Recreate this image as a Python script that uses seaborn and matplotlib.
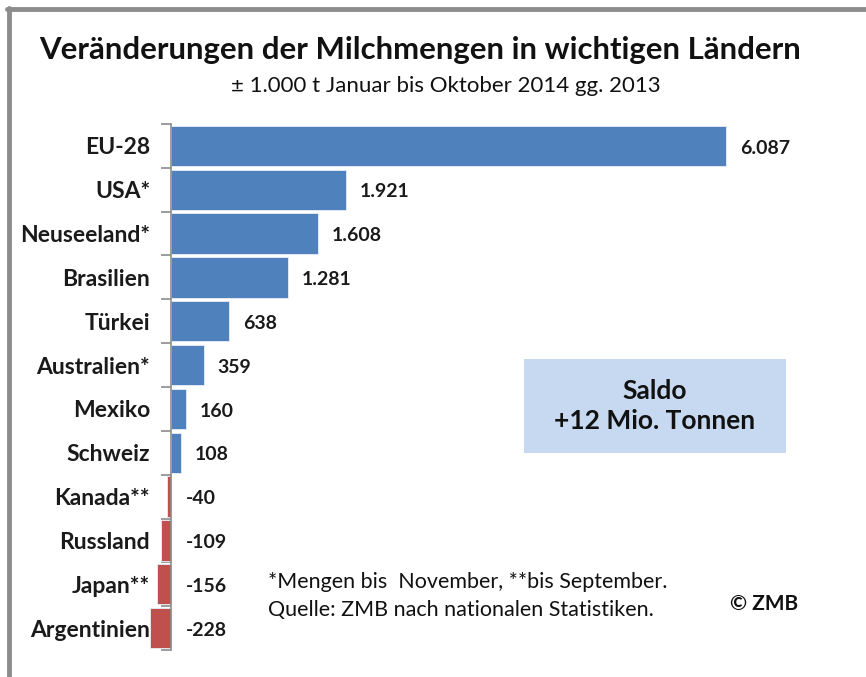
import matplotlib
matplotlib.use("Agg")
import matplotlib.pyplot as plt
import seaborn as sns
import pandas as pd
from matplotlib.lines import Line2D
from matplotlib.patches import Rectangle

countries = ["EU-28", "USA*", "Neuseeland*", "Brasilien", "Türkei", "Australien*",
             "Mexiko", "Schweiz", "Kanada**", "Russland", "Japan**", "Argentinien"]
values = [6087, 1921, 1608, 1281, 638, 359, 160, 108, -40, -109, -156, -228]

title = "Veränderungen der Milchmengen in wichtigen Ländern"
subtitle = "± 1.000 t Januar bis Oktober 2014 gg. 2013"
saldo_text = "Saldo\n+12 Mio. Tonnen"
footnote1 = "*Mengen bis  November, **bis September."
footnote2 = "Quelle: ZMB nach nationalen Statistiken."
copyright_text = "© ZMB"

BLUE = "#4f81bd"
RED = "#c0504d"

sns.set_theme(style="white")
plt.rcParams["font.family"] = ["Lato", "DejaVu Sans"]

W, H = 866, 677
fig = plt.figure(figsize=(W / 100, H / 100), dpi=100)

# axes placement in pixels
ax_left, ax_right = 130, 840
ax_top, ax_bottom = 124, 650
ax = fig.add_axes([ax_left / W, 1 - ax_bottom / H, (ax_right - ax_left) / W, (ax_bottom - ax_top) / H])

px_per_unit = (726 - 171) / 6087.0
xmin = -(171 - ax_left) / px_per_unit
xmax = xmin + (ax_right - ax_left) / px_per_unit

df = pd.DataFrame({"Land": countries, "Wert": values})
df["Vorzeichen"] = ["pos" if v >= 0 else "neg" for v in values]

sns.barplot(data=df, y="Land", x="Wert", hue="Vorzeichen", orient="h",
            palette={"pos": BLUE, "neg": RED}, width=0.92, dodge=False,
            saturation=1, legend=False, ax=ax, edgecolor="#e8eef7", linewidth=0.6)

ax.set_xlim(xmin, xmax)
ax.set_ylim(len(countries) - 0.5, -0.5)
ax.set_xlabel("")
ax.set_ylabel("")
ax.set_xticks([])
for s in ["top", "right", "bottom"]:
    ax.spines[s].set_visible(False)
ax.spines["left"].set_position(("data", 0))
ax.spines["left"].set_color("#8c8c8c")
ax.spines["left"].set_linewidth(1.2)

ax.set_yticks(range(len(countries)))
ax.set_yticklabels(countries, fontsize=16.5, fontweight="bold", color="#1a1a1a")
ax.tick_params(axis="y", which="major", length=0, pad=15)
ax.set_yticks([i - 0.5 for i in range(len(countries) + 1)], minor=True)
ax.tick_params(axis="y", which="minor", length=7, width=1.2, color="#8c8c8c", left=True)
ax.patch.set_alpha(0)

off = 14 / px_per_unit
for i, v in enumerate(values):
    lbl = f"{v:,}".replace(",", ".")
    x = v + off if v >= 0 else off + 1 / px_per_unit
    ax.text(x, i + 0.05, lbl, ha="left", va="center", fontsize=14,
            fontweight="bold", color="#1a1a1a")

# titles
fig.text(420 / W, 1 - 50 / H, title, ha="center", va="center", fontsize=22.4,
         fontweight="bold", color="#111111")
fig.text(446 / W, 1 - 86 / H, subtitle, ha="center", va="center", fontsize=16,
         color="#111111")

# saldo box
fig.add_artist(Rectangle((524 / W, 1 - 453 / H), (786 - 524) / W, (453 - 359) / H,
                         transform=fig.transFigure, facecolor="#c6d9f0", edgecolor="none"))
fig.text(655 / W, 1 - 406 / H, saldo_text, ha="center", va="center", fontsize=19,
         fontweight="bold", color="#111111", linespacing=1.3)

# footnotes
fig.text(268 / W, 1 - 582 / H, footnote1, ha="left", va="center", fontsize=15.5, color="#111111")
fig.text(268 / W, 1 - 610 / H, footnote2, ha="left", va="center", fontsize=15.5, color="#111111")
fig.text(730 / W, 1 - 604 / H, copyright_text, ha="left", va="center", fontsize=15,
         fontweight="bold", color="#111111")

# frame lines (left and top)
fig.add_artist(Line2D([8.5 / W, 8.5 / W], [0, 1 - 8 / H], transform=fig.transFigure,
                      color="#8c8c8c", linewidth=3.5))
fig.add_artist(Line2D([7 / W, 1], [1 - 9 / H, 1 - 9 / H], transform=fig.transFigure,
                      color="#8c8c8c", linewidth=3.5))

fig.savefig("out.png", dpi=100, facecolor="white")
